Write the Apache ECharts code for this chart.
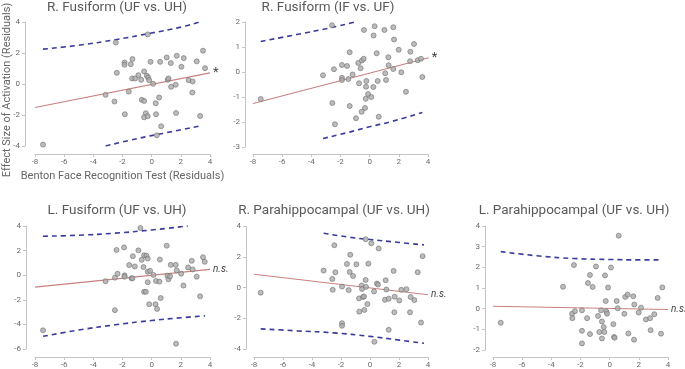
<!DOCTYPE html>
<html><head><meta charset="utf-8">
<script src="https://cdn.jsdelivr.net/npm/echarts@6/dist/echarts.min.js"></script>
<style>html,body{margin:0;padding:0;background:#fff}#c{width:685px;height:369px}</style>
</head><body><div id="c"></div>
<script>
// ---------- Data ----------
const titles = ["R. Fusiform (UF vs. UH)", "R. Fusiform (IF vs. UF)", "L. Fusiform (UF vs. UH)", "R. Parahippocampal (UF vs. UH)", "L. Parahippocampal (UF vs. UH)"];
const sigLabels = ["*", "*", "n.s.", "n.s.", "n.s."];
const xTicks = [-8, -6, -4, -2, 0, 2, 4];
const yRanges = [[-4, 4, 2], [-3, 2, 1], [-6, 4, 2], [-4, 4, 2], [-2, 4, 1]];
const xAxisTitle = "Benton Face Recognition Test (Residuals)";
const yAxisTitle = "Effect Size of Activation (Residuals)";

const points1 = [[-7.45,-3.91],[-2.46,2.68],[-0.27,3.2],[-3.16,-0.7],[-2.55,-1.13],[-2.39,0.72],[-1.86,1.39],[-1.86,1.24],[-1.43,1.28],[-1.32,1.61],[-1.84,-1.95],[-1.57,-0.49],[-1.34,0.36],[-1.13,0.36],[-0.91,0.57],[-0.72,0.27],[-0.52,0.81],[-0.33,0.53],[-0.24,0.42],[-0.17,0.25],[-0.68,-1.02],[-0.52,-1.09],[-0.4,-1.89],[-0.52,-2.15],[-0.27,-2.08],[-0.08,1.43],[0.1,0.01],[0.28,-1.24],[0.3,-1.95],[0.35,-3.31],[0.51,-0.87],[0.58,1.43],[0.65,-2.73],[1.03,1.71],[1.1,0.27],[1.15,0.36],[1.31,1.35],[1.33,-0.18],[1.65,-0.05],[1.67,-1.87],[1.72,1.82],[2.04,1.11],[2.2,1.67],[2.54,0.25],[2.81,0.16],[2.79,-0.55],[3.09,1.46],[3.32,-2.06],[3.52,2.15],[3.66,1.02]];
const points2 = [[-7.47,-1.08],[-2.58,1.87],[-3.2,-0.13],[-2.45,0.11],[-2.56,-1.24],[-2.38,-2.09],[-1.9,0.28],[-1.9,-0.23],[-1.9,-0.32],[-1.55,0.24],[-1.46,-0.28],[-1.37,0.79],[-1.37,-1.36],[-1.17,-0.1],[-0.94,-1.85],[-0.73,-0.45],[-0.78,0.36],[-0.62,0.15],[-0.53,0.46],[-0.41,0.53],[-0.55,-1.59],[-0.32,-1.44],[-0.27,-1.07],[-0.39,1.68],[-0.25,-0.59],[-0.23,-0.36],[-0.11,-0.88],[0.11,-1.0],[0.25,-0.6],[0.27,1.46],[0.34,1.83],[0.48,0.75],[0.55,-0.36],[0.62,-1.79],[1.01,1.68],[1.07,-0.05],[1.12,-0.32],[1.28,0.59],[1.3,0.27],[1.62,1.79],[1.67,1.3],[1.62,0.12],[1.99,0.89],[2.17,-0.01],[2.49,-0.79],[2.77,0.43],[2.79,0.81],[3.04,1.12],[3.29,0.47],[3.52,0.53],[3.61,-0.2]];
const points3 = [[-7.45,-4.48],[-2.52,-2.84],[-3.16,-0.49],[-2.52,-0.2],[-2.34,0.12],[-2.41,2.05],[-1.89,2.26],[-1.86,-0.01],[-1.86,-0.12],[-1.54,0.82],[-1.38,-0.25],[-1.29,1.54],[-1.32,-0.25],[-1.16,0.71],[-0.91,2.02],[-0.77,3.84],[-0.68,1.25],[-0.56,0.66],[-0.52,1.62],[-0.52,-1.35],[-0.4,-1.35],[-0.36,1.59],[-0.27,1.35],[-0.27,0.28],[-0.27,-0.57],[-0.17,-2.36],[-0.11,0.36],[0.12,0.02],[0.26,-2.36],[0.3,-0.47],[0.37,-2.74],[0.53,-0.52],[0.56,1.27],[0.62,-1.86],[1.03,2.4],[1.08,-0.04],[1.15,-0.33],[1.26,-0.09],[1.31,0.84],[1.65,0.84],[1.72,0.39],[1.67,-5.57],[2.02,0.12],[2.18,-0.84],[2.5,0.63],[2.75,1.17],[2.81,0.47],[3.09,-0.12],[3.32,-1.72],[3.52,1.46],[3.64,1.09]];
const points4 = [[-7.54,-0.34],[-3.2,1.1],[-2.46,2.75],[-2.39,0.99],[-2.6,0.56],[-2.57,-0.15],[-1.93,0.06],[-1.93,-2.32],[-1.93,-2.49],[-1.59,1.53],[-1.47,-0.17],[-1.36,2.13],[-1.4,1.01],[-1.17,0.75],[-0.94,1.51],[-0.76,-0.71],[-0.74,-1.57],[-0.57,0.13],[-0.55,-0.09],[-0.48,-0.62],[-0.41,-0.58],[-0.39,-1.46],[-0.3,0.49],[-0.28,0.04],[-0.3,3.14],[-0.18,-1.08],[-0.11,1.55],[0.09,2.88],[0.28,-0.26],[0.3,-3.53],[0.48,0.26],[0.55,0.19],[0.6,2.54],[1.03,-0.8],[1.08,0.47],[1.13,-0.13],[1.29,-0.73],[1.29,-2.75],[1.63,1.08],[1.7,-0.6],[1.68,-1.61],[2.02,-0.84],[2.16,-0.15],[2.51,-0.11],[2.8,-0.62],[2.76,-1.61],[3.06,-0.82],[3.29,0.99],[3.52,-2.28],[3.63,2.04]];
const points5 = [[-7.47,-0.68],[-3.2,1.06],[-2.45,2.11],[-2.58,-0.25],[-2.56,-0.46],[-2.38,-0.12],[-1.9,-0.08],[-1.9,-1.07],[-1.9,-1.68],[-1.55,-0.46],[-1.49,1.24],[-1.35,1.63],[-1.35,-1.23],[-1.17,1.05],[-0.94,2.04],[-0.8,-0.35],[-0.71,-1.13],[-0.59,-0.08],[-0.53,-0.62],[-0.53,-1.44],[-0.41,-0.89],[-0.37,-1.13],[-0.32,1.61],[-0.27,0.37],[-0.23,-0.14],[-0.18,-0.24],[-0.11,1.02],[0.09,1.99],[0.25,-0.75],[0.3,-1.37],[0.34,-1.41],[0.48,0.37],[0.55,0.02],[0.62,3.53],[1.01,-0.25],[1.07,0.57],[1.23,0.68],[1.28,-1.2],[1.62,0.6],[1.67,-1.5],[1.69,0.2],[1.99,-0.19],[2.15,0.05],[2.49,-0.52],[2.77,-0.46],[2.81,-1.04],[3.06,-0.27],[3.29,0.52],[3.52,-1.21],[3.61,1.03]];

const fit1 = [[-8,-1.52],[4,0.72]];
const fit2 = [[-8,-1.26],[4.05,0.57]];
const fit3 = [[-8,-0.97],[4,0.47]];
const fit4 = [[-8,0.86],[4,-0.47]];
const fit5 = [[-8,0.12],[4,-0.04]];

const upper1 = [[-7.45,2.25],[-5,2.5],[-2.5,2.86],[0,3.29],[2,3.67],[3.3,4.0]];
const lower1 = [[-3.16,-4.0],[-1.5,-3.63],[0,-3.33],[1.5,-3.05],[3.27,-2.71]];
const upper2 = [[-7.47,1.22],[-5,1.5],[-3,1.73],[-1.07,1.99]];
const lower2 = [[-3.2,-2.66],[-1.5,-2.42],[0,-2.19],[1.5,-1.98],[3.61,-1.62]];
const upper3 = [[-7.45,3.17],[-5,3.25],[-2.5,3.42],[0,3.68],[2.47,4.0]];
const lower3 = [[-7.45,-4.97],[-5,-4.46],[-2.5,-4.03],[0,-3.68],[2,-3.46],[3.66,-3.3]];
const upper4 = [[-3.2,3.53],[-1.5,3.28],[0,3.12],[2,2.93],[3.72,2.77]];
const lower4 = [[-7.54,-2.69],[-5,-2.82],[-2.5,-2.95],[0,-3.18],[2,-3.42],[3.72,-3.63]];
const upper5 = [[-7.47,2.76],[-5,2.56],[-2.5,2.43],[0,2.38],[2,2.36],[3.36,2.36]];

const pointsAll = [points1, points2, points3, points4, points5];
const fitAll = [fit1, fit2, fit3, fit4, fit5];
const upperAll = [upper1, upper2, upper3, upper4, upper5];
const lowerAll = [lower1, lower2, lower3, lower4, null];

// ---------- Layout ----------
const grids = [
  {left: 35, top: 22, width: 175, height: 124},
  {left: 253, top: 22, width: 175, height: 125},
  {left: 35, top: 226, width: 175, height: 125},
  {left: 254, top: 226, width: 174, height: 124},
  {left: 493, top: 226, width: 175, height: 125}
];
const xOffsets = [8, 7, 8, 8, 7];
const yOffsets = [10, 8, 9, 8, 8];
const titlePos = [[117, 8], [328, 8], [117, 211], [334, 211], [574, 211]];

const FONT = 'Roboto, "Open Sans", sans-serif';
const axisGray = '#c4c4c4';
const labelGray = '#6a6a6a';

const xAxes = [], yAxes = [], series = [], graphics = [];
for (let i = 0; i < 5; i++) {
  xAxes.push({
    gridIndex: i, type: 'value', min: xTicks[0], max: xTicks[xTicks.length - 1], interval: 2,
    offset: xOffsets[i],
    axisLine: {show: true, onZero: false, lineStyle: {color: axisGray, width: 1}},
    axisTick: {show: true, length: 3, lineStyle: {color: axisGray}},
    axisLabel: {fontSize: 8, color: labelGray, margin: 4, fontFamily: FONT},
    splitLine: {show: false},
    name: i === 0 ? xAxisTitle : '', nameLocation: 'middle', nameGap: 17,
    nameTextStyle: {fontSize: 11, color: '#666', fontFamily: FONT}
  });
  const r = yRanges[i];
  yAxes.push({
    gridIndex: i, type: 'value', min: r[0], max: r[1], interval: r[2],
    offset: yOffsets[i],
    axisLine: {show: true, onZero: false, lineStyle: {color: axisGray, width: 1}},
    axisTick: {show: true, length: 3, lineStyle: {color: axisGray}},
    axisLabel: {fontSize: 8, color: labelGray, margin: 5, fontFamily: FONT},
    splitLine: {show: false}
  });
  series.push({
    type: 'line', xAxisIndex: i, yAxisIndex: i, data: upperAll[i], smooth: true,
    showSymbol: false, symbol: 'none', silent: true, clip: true,
    lineStyle: {color: '#3b3b9c', width: 1.6, type: [5, 4]}, z: 3
  });
  if (lowerAll[i]) {
    series.push({
      type: 'line', xAxisIndex: i, yAxisIndex: i, data: lowerAll[i], smooth: true,
      showSymbol: false, symbol: 'none', silent: true, clip: true,
      lineStyle: {color: '#3b3b9c', width: 1.6, type: [5, 4]}, z: 3
    });
  }
  series.push({
    type: 'line', xAxisIndex: i, yAxisIndex: i, data: fitAll[i],
    showSymbol: false, symbol: 'none', silent: true,
    lineStyle: {color: '#c98080', width: 1.1}, z: 2,
    endLabel: {
      show: true, formatter: sigLabels[i], distance: 3,
      fontSize: sigLabels[i] === '*' ? 13 : 10,
      fontStyle: sigLabels[i] === '*' ? 'normal' : 'italic',
      color: '#444', fontFamily: FONT
    }
  });
  series.push({
    type: 'scatter', xAxisIndex: i, yAxisIndex: i, data: pointsAll[i],
    symbol: 'circle', symbolSize: 5, silent: true,
    itemStyle: {color: '#ababab', borderColor: '#727272', borderWidth: 0.8}, z: 4
  });
  graphics.push({
    type: 'text', x: titlePos[i][0], y: titlePos[i][1],
    style: {text: titles[i], fontSize: 13.5, fill: '#5a5a5a', fontFamily: FONT, align: 'center', verticalAlign: 'middle'}
  });
}
graphics.push({
  type: 'text', x: 7, y: 90, rotation: Math.PI / 2,
  style: {text: yAxisTitle, fontSize: 11, fill: '#666', fontFamily: FONT, align: 'center', verticalAlign: 'middle'}
});

const chart = echarts.init(document.getElementById('c'), null, {renderer: 'canvas'});
chart.setOption({
  animation: false,
  backgroundColor: '#fff',
  grid: grids,
  xAxis: xAxes,
  yAxis: yAxes,
  series: series,
  graphic: graphics
});
</script></body></html>
